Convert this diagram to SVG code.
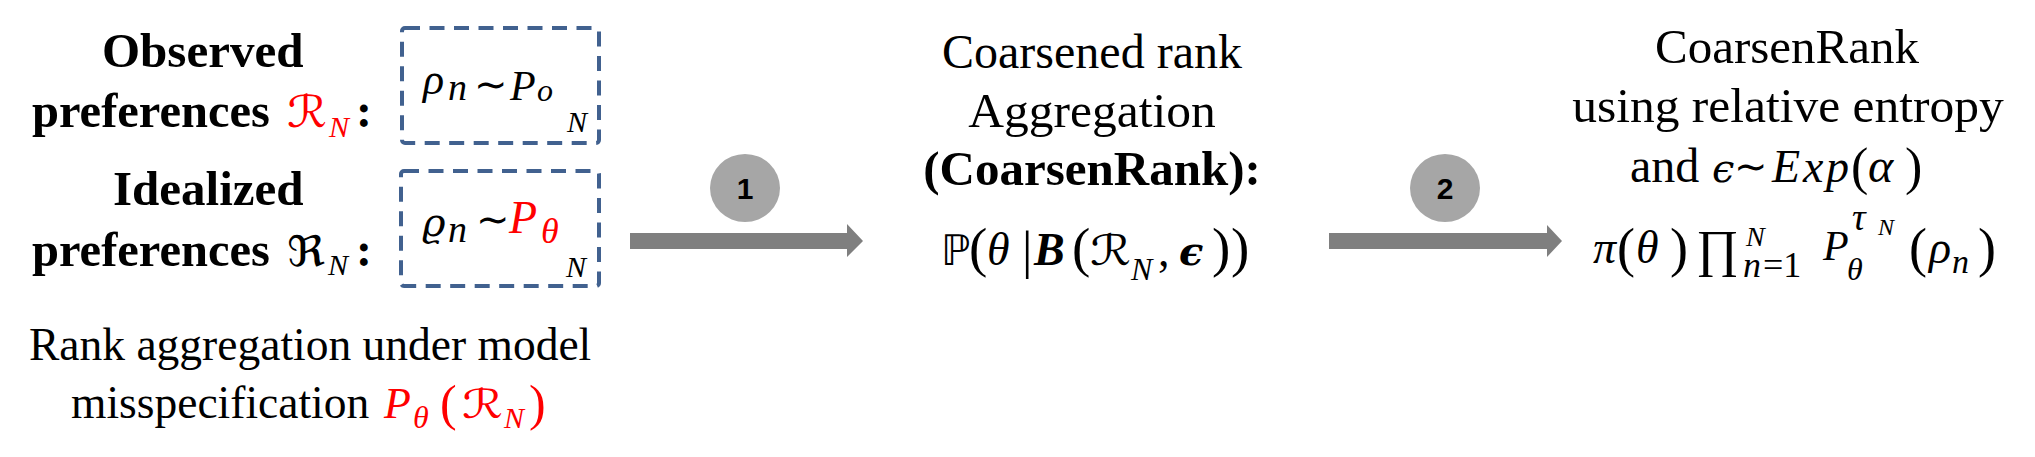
<svg xmlns="http://www.w3.org/2000/svg" width="2035" height="457" viewBox="0 0 2035 457">
<style>
.t{font-family:'Liberation Serif';fill:#000}
.b{font-weight:bold}
.m{font-family:'Liberation Serif';font-style:italic;fill:#000}
.u{font-style:normal}
.dv{font-family:'DejaVu Serif'}
.sym{font-family:'DejaVu Sans';font-style:normal;font-weight:normal}
.red{fill:#ff0000}
.box{fill:none;stroke:#41618f;stroke-width:4;stroke-dasharray:15 9.5}
.arrow{fill:#7f7f7f}
.badge{fill:#a6a6a6}
.num{font-family:'Liberation Sans';font-weight:bold;font-size:30px;text-anchor:middle;fill:#000}
</style>
<rect width="2035" height="457" fill="#fff"/>

<g id="left-labels">
<text class="t b" font-size="49" x="102" y="67">Observed</text>
<text class="t b" font-size="48.5" x="32" y="127">preferences</text>
<text class="sym red" font-size="44" x="287" y="127" textLength="40" lengthAdjust="spacingAndGlyphs">ℛ</text>
<text class="m red" font-size="30" x="329" y="137">N</text>
<text class="t b" font-size="48" x="356" y="127">:</text>
<text class="t b" font-size="49" x="113" y="205">Idealized</text>
<text class="t b" font-size="48.5" x="32" y="266">preferences</text>
<text class="sym" font-size="42" x="287" y="266" textLength="38" lengthAdjust="spacingAndGlyphs">ℜ</text>
<text class="m" font-size="30" x="328" y="275">N</text>
<text class="t b" font-size="48" x="356" y="266">:</text>
</g>

<g id="box-observed">
<rect class="box" x="402" y="28" width="197" height="115" rx="3"/>
<text class="m" font-size="44"><tspan x="423" y="94">ρ</tspan><tspan x="448" y="100" font-size="38">n</tspan><tspan class="sym" x="474" y="98" font-size="40">∼</tspan><tspan x="510" y="100" font-size="42">P</tspan><tspan x="537" y="101" font-size="32">o</tspan><tspan x="567" y="132" font-size="30">N</tspan></text>
</g>

<g id="box-idealized">
<rect class="box" x="401" y="171" width="198" height="115" rx="3"/>
<text class="m" font-size="44"><tspan class="dv" x="422" y="236" font-size="40">ϱ</tspan><tspan x="448" y="242" font-size="38">n</tspan><tspan class="sym" x="476" y="233" font-size="40">∼</tspan><tspan class="red" x="509" y="233" font-size="46">P</tspan><tspan class="red" x="541" y="243" font-size="36">θ</tspan><tspan x="566" y="277" font-size="30">N</tspan></text>
</g>

<g id="bottom-label">
<text class="t" font-size="45.5" x="29" y="360">Rank aggregation under model</text>
<text class="t" font-size="45.5" x="71" y="418">misspecification</text>
<text class="m red" font-size="44"><tspan x="384" y="418">P</tspan><tspan x="413" y="428" font-size="32">θ</tspan><tspan class="u" x="440" y="420" font-size="50">(</tspan><tspan x="504" y="428" font-size="30">N</tspan><tspan class="u" x="529" y="420" font-size="50">)</tspan></text>
<text class="sym red" font-size="40" x="462" y="418" textLength="41" lengthAdjust="spacingAndGlyphs">ℛ</text>
</g>

<g id="connectors">
<polygon class="arrow" points="630,233 847,233 847,224 863,241 847,257 847,249 630,249"/>
<polygon class="arrow" points="1329,233 1547,233 1547,225 1562,241 1547,257 1547,249 1329,249"/>
</g>

<g id="badge-1">
<ellipse class="badge" cx="745" cy="188" rx="35" ry="34"/>
<text class="num" x="745" y="199">1</text>
</g>
<g id="badge-2">
<ellipse class="badge" cx="1445" cy="188" rx="35" ry="34"/>
<text class="num" x="1445" y="199">2</text>
</g>

<g id="coarsened-rank-aggregation">
<text class="t" font-size="48" x="1092" y="68" text-anchor="middle">Coarsened rank</text>
<text class="t" font-size="49.5" x="1092" y="127" text-anchor="middle">Aggregation</text>
<text class="t b" font-size="49" x="1092" y="185" text-anchor="middle">(CoarsenRank):</text>
<text class="m" font-size="46"><tspan class="sym" x="941" y="265" font-size="42">ℙ</tspan><tspan class="u" x="969" y="266" font-size="55">(</tspan><tspan x="987" y="265">θ</tspan><tspan class="u" x="1022" y="268" font-size="52">|</tspan><tspan class="b" x="1034" y="265">B</tspan><tspan class="u" x="1072" y="266" font-size="55">(</tspan><tspan x="1131" y="280" font-size="32">N</tspan><tspan class="u" x="1158" y="266">,</tspan><tspan class="b dv" x="1179" y="265" font-size="40">ϵ</tspan><tspan class="u" x="1212" y="266" font-size="55">)</tspan><tspan class="u" x="1231" y="266" font-size="55">)</tspan></text>
<text class="sym" font-size="42" x="1090" y="265" textLength="41" lengthAdjust="spacingAndGlyphs">ℛ</text>
</g>

<g id="coarsenrank-entropy">
<text class="t" font-size="49" x="1787" y="63" text-anchor="middle">CoarsenRank</text>
<text class="t" font-size="49.5" x="1788" y="122" text-anchor="middle">using relative entropy</text>
<text class="t" font-size="48" x="1630" y="182">and</text>
<text class="m" font-size="46"><tspan class="dv" x="1712" y="182" font-size="40">ϵ</tspan><tspan class="sym" x="1734" y="180" font-size="40">∼</tspan><tspan x="1772" y="182">E</tspan><tspan x="1803" y="182">x</tspan><tspan x="1826" y="182">p</tspan><tspan class="u" x="1851" y="184" font-size="52">(</tspan><tspan x="1868" y="182" font-size="48">α</tspan><tspan class="u" x="1905" y="184" font-size="52">)</tspan></text>
<text class="m" font-size="46"><tspan x="1593" y="263">π</tspan><tspan class="u" x="1617" y="266" font-size="54">(</tspan><tspan x="1636" y="263">θ</tspan><tspan class="u" x="1670" y="266" font-size="54">)</tspan><tspan class="u" x="1696" y="266" font-size="52">∏</tspan><tspan x="1746" y="246" font-size="28">N</tspan><tspan x="1743" y="277" font-size="36">n</tspan><tspan class="u" x="1763" y="277" font-size="36">=1</tspan><tspan x="1823" y="260" font-size="42">P</tspan><tspan x="1847" y="280" font-size="32">θ</tspan><tspan x="1852" y="230" font-size="38">τ</tspan><tspan x="1878" y="235" font-size="24">N</tspan><tspan class="u" x="1909" y="266" font-size="54">(</tspan><tspan x="1929" y="263">ρ</tspan><tspan x="1952" y="273" font-size="34">n</tspan><tspan class="u" x="1978" y="266" font-size="54">)</tspan></text>
</g>
</svg>
